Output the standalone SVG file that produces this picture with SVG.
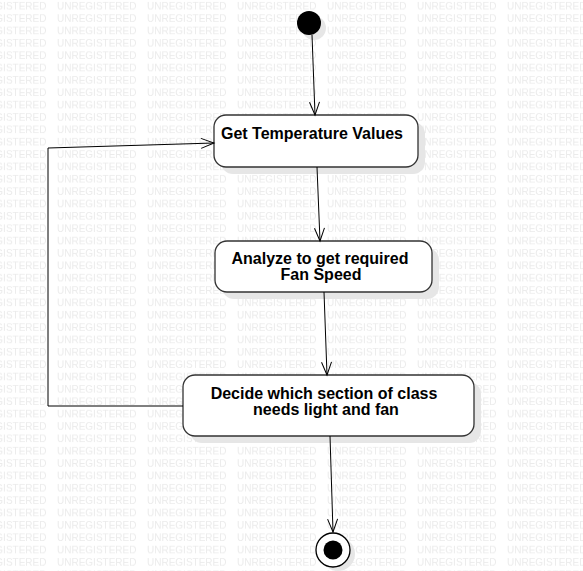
<svg xmlns="http://www.w3.org/2000/svg" width="583" height="571" viewBox="0 0 583 571">
  <defs>
    <pattern id="wm" patternUnits="userSpaceOnUse" x="-33" y="0" width="90" height="12.36">
      <text x="0" y="9.6" font-family="Liberation Sans, Arial, sans-serif" font-size="10" fill="#ebebeb">UNREGISTERED</text>
    </pattern>
    <marker id="arr" markerUnits="userSpaceOnUse" markerWidth="16" markerHeight="14" refX="0" refY="0" viewBox="-15 -7 16 14" orient="auto" overflow="visible">
      <path d="M-13,-5 L0,0 L-13,5" fill="none" stroke="#000" stroke-width="1"/>
    </marker>
    <style>
      .box { fill: #fff; stroke: #333; stroke-width: 1.3; }
      .shadow { fill: #e6e6e6; }
      .lbl { font-family: "Liberation Sans", Arial, sans-serif; font-size: 16px; font-weight: bold; fill: #000; }
      .conn { fill: none; stroke: #000; stroke-width: 1; marker-end: url(#arr); }
    </style>
  </defs>
  <rect width="583" height="571" fill="#fff"/>
  <rect width="583" height="571" fill="url(#wm)"/>

  <g id="start">
    <circle cx="314" cy="28" r="12" class="shadow"/>
    <circle cx="309" cy="23" r="12" fill="#000"/>
  </g>

  <g id="get-temperature">
    <rect x="221" y="122" width="204" height="52" rx="12" class="shadow"/>
    <rect x="214" y="115" width="204" height="52" rx="12" class="box"/>
    <text x="221" y="139" class="lbl">Get Temperature Values</text>
  </g>

  <g id="analyze">
    <rect x="222" y="248" width="217" height="51" rx="12" class="shadow"/>
    <rect x="215" y="241" width="217" height="51" rx="12" class="box"/>
    <text x="320" y="264" text-anchor="middle" class="lbl">Analyze to get required</text>
    <text x="321" y="280" text-anchor="middle" class="lbl">Fan Speed</text>
  </g>

  <g id="decide">
    <rect x="190" y="382" width="291" height="61" rx="12" class="shadow"/>
    <rect x="183" y="375" width="291" height="61" rx="12" class="box"/>
    <text x="324" y="399" text-anchor="middle" class="lbl">Decide which section of class</text>
    <text x="326" y="415" text-anchor="middle" class="lbl">needs light and fan</text>
  </g>

  <g id="end">
    <circle cx="338" cy="554" r="17" class="shadow"/>
    <circle cx="333" cy="550" r="17" fill="#fff" stroke="#000" stroke-width="1.3"/>
    <circle cx="333" cy="550" r="9.5" fill="#000"/>
  </g>

  <g id="connectors">
    <line x1="312" y1="35" x2="315" y2="115" class="conn"/>
    <line x1="317" y1="167" x2="320" y2="241" class="conn"/>
    <line x1="324" y1="292" x2="327" y2="375" class="conn"/>
    <line x1="330" y1="436" x2="333" y2="532" class="conn"/>
    <polyline points="183,406 48,406 48,148 214,143" class="conn"/>
  </g>
</svg>
